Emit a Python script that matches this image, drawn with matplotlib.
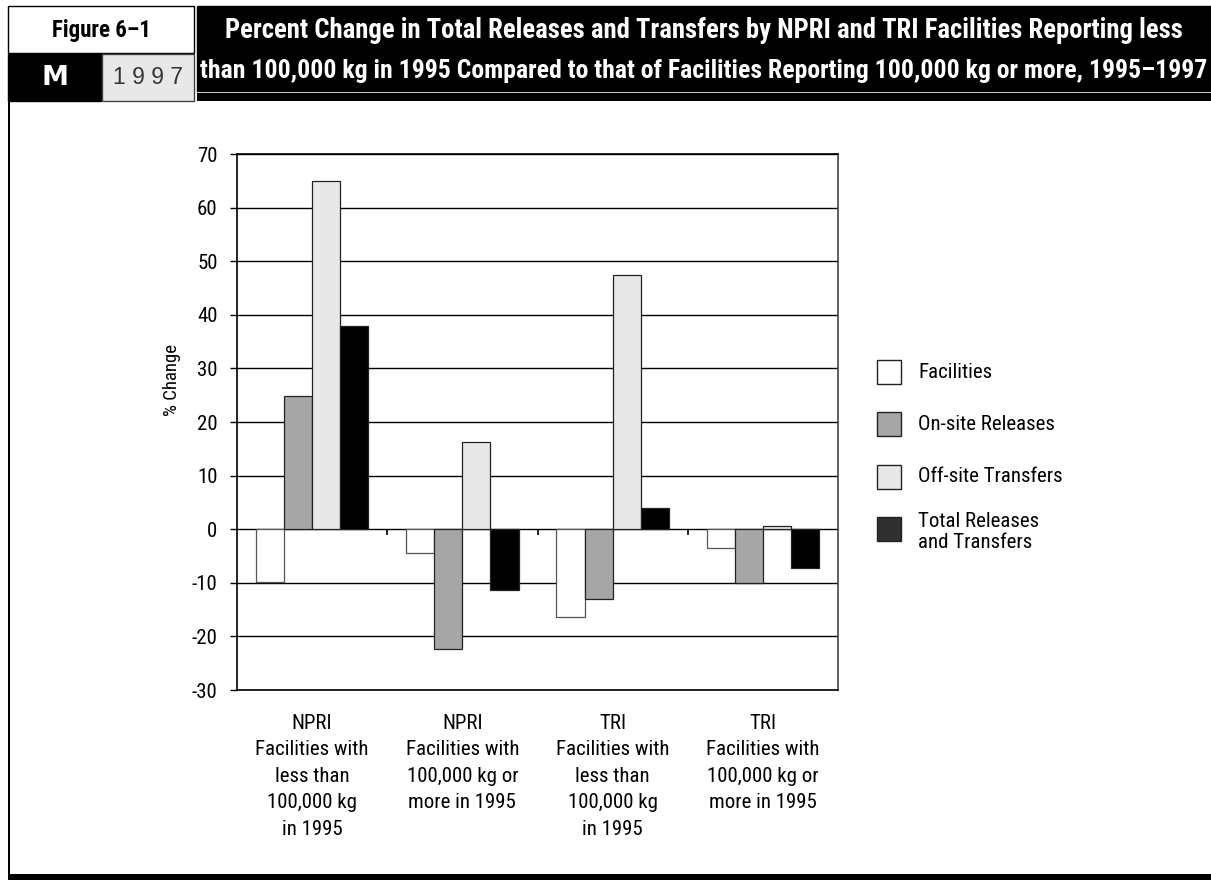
import matplotlib
matplotlib.use("Agg")
import matplotlib.pyplot as plt
from matplotlib.patches import Rectangle
import numpy as np

plt.rcParams['font.family'] = ['Roboto Condensed', 'Roboto', 'DejaVu Sans']

# data
groups = ["NPRI\nFacilities with\nless than\n100,000 kg\nin 1995",
          "NPRI\nFacilities with\n100,000 kg or\nmore in 1995",
          "TRI\nFacilities with\nless than\n100,000 kg\nin 1995",
          "TRI\nFacilities with\n100,000 kg or\nmore in 1995"]
series = ["Facilities", "On-site Releases", "Off-site Transfers",
          "Total Releases\nand Transfers"]
facilities = [-9.9, -4.4, -16.3, -3.6]
onsite = [24.9, -22.4, -13.0, -10.0]
offsite = [65.0, 16.3, 47.5, 0.6]
total = [38.0, -11.4, 3.9, -7.2]
yticks = list(range(-30, 80, 10))

title1 = "Percent Change in Total Releases and Transfers by NPRI and TRI Facilities Reporting less"
title2 = "than 100,000 kg in 1995 Compared to that of Facilities Reporting 100,000 kg or more, 1995\u20131997"

bar_colors = ["white", "#a6a6a6", "#e8e8e8", "black"]
legend_colors = ["white", "#a6a6a6", "#e8e8e8", "#303030"]

fig = plt.figure(figsize=(12.11, 8.8), dpi=100)
W, H = 1211, 880


def px(x, y, w, h):
    # pixel box (top-left origin) -> figure fraction
    return (x / W, 1 - (y + h) / H, w / W, h / H)


def box(x, y, w, h, fc, ec="black", lw=1.0):
    x0, y0, ww, hh = px(x, y, w, h)
    fig.add_artist(Rectangle((x0, y0), ww, hh, transform=fig.transFigure,
                             facecolor=fc, edgecolor=ec, linewidth=lw))


# ---- header ----
box(8, 6, 186, 47, "white")
box(8, 54, 93, 47, "black")
box(102, 54, 92, 47, "#e8e8e8", ec="#444444")
box(197, 6, 1014, 85, "black", ec="black")
box(197, 93, 1014, 8, "black", ec="black", lw=0)
# left frame and bottom band
box(8, 101, 2, 774, "black", lw=0)
box(8, 874, 1203, 6, "black", lw=0)

fig.text(101 / W, 1 - 30 / H, "Figure 6\u20131", ha="center", va="center",
         fontsize=16.5, fontweight="bold", color="black")
fig.text(55 / W, 1 - 78 / H, "M", ha="center", va="center", fontsize=19.5,
         fontweight="bold", color="white", family=["DejaVu Sans"])
fig.text(148 / W, 1 - 78 / H, "1 9 9 7", ha="center", va="center", fontsize=16.5,
         color="#333333", family=["Liberation Sans", "DejaVu Sans"])

renderer = fig.canvas.get_renderer()
for ty, t in [(31, title1), (71, title2)]:
    tx = fig.text(704 / W, 1 - ty / H, t, ha="center", va="center",
                  fontsize=16, fontweight="bold", color="white")
    wpx = tx.get_window_extent(renderer).width
    target = 962 if t is title1 else 1005
    tx.set_fontsize(16 * target / wpx)

# ---- chart ----
ax = fig.add_axes(px(237, 154, 601, 536))
x = np.arange(len(groups))
width = 0.187
all_series = [facilities, onsite, offsite, total]
for i, (vals, col) in enumerate(zip(all_series, bar_colors)):
    ec = "#555555" if col == "white" else "#222222"
    ax.bar(x + (i - 1.5) * width, vals, width, color=col, edgecolor=ec,
           linewidth=0.9, zorder=3)

ax.set_ylim(-30, 70)
ax.set_xlim(-0.5, len(groups) - 0.5)
ax.set_yticks(yticks)
ax.set_yticklabels([str(t) for t in yticks], fontsize=15)
ax.yaxis.grid(True, color="black", linewidth=1.0, zorder=1)
ax.set_axisbelow(True)
ax.tick_params(axis="y", length=5, width=1, direction="out", pad=9)
ax.set_xticks(x)
ax.set_xticklabels(groups, fontsize=15, linespacing=1.5)
ax.tick_params(axis="x", length=0, pad=17)
for s in ax.spines.values():
    s.set_linewidth(1.2)
    s.set_color("black")
ax.spines["right"].set_color("#444444")
# category separators on the zero line
ax.vlines(x[:-1] + 0.5, -1.0, 0, color="black", linewidth=1.2, zorder=4)
ax.set_ylabel("% Change", fontsize=13.5)
ax.yaxis.set_label_coords(-0.094, 0.578)

# ---- legend ----
ys = [372, 424, 477, 529]
for name, col, yc in zip(series, legend_colors, ys):
    box(877, yc - 12, 24, 24, col, ec="#222222", lw=1.0)
    yt = yc if "\n" not in name else yc + 3
    fig.text(918 / W, 1 - yt / H, name, ha="left", va="center", fontsize=15,
             linespacing=1.15)

fig.savefig("out.png", dpi=100)
